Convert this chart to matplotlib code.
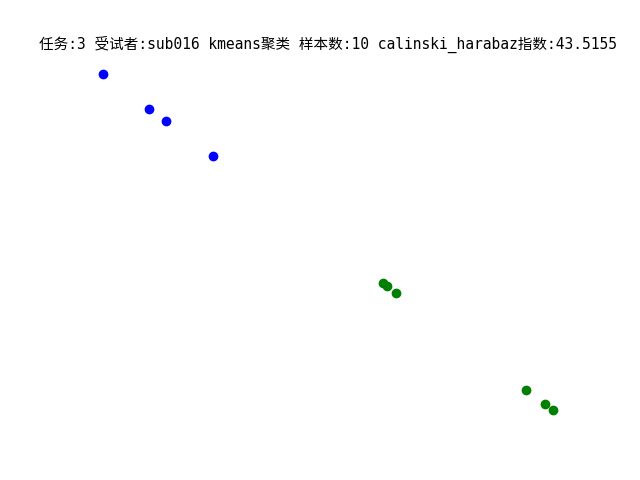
import matplotlib
matplotlib.use('Agg')
import matplotlib.pyplot as plt

# cluster members (arbitrary units, axis hidden)
blue_x = [103, 149, 166, 213]
blue_y = [74, 109, 121, 156]
green_x = [383, 387, 396, 526, 545, 553]
green_y = [283, 286, 293, 390, 404, 410]

title = '任务:3 受试者:sub016 kmeans聚类 样本数:10 calinski_harabaz指数:43.5155'

fig, ax = plt.subplots(figsize=(6.4, 4.8), dpi=100)
ax.scatter(blue_x, [-v for v in blue_y], c='blue')
ax.scatter(green_x, [-v for v in green_y], c='green')
ax.set_title(title, family=['DejaVu Sans Mono', 'Noto Sans CJK SC'], fontsize=10.5)
ax.axis('off')
fig.savefig('out.png')
